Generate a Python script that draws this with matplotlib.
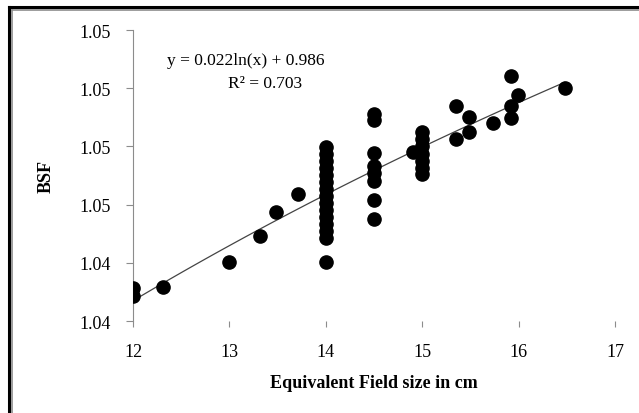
import numpy as np
import matplotlib
matplotlib.use("Agg")
import matplotlib.pyplot as plt
from matplotlib.lines import Line2D

# field size (cm) vs backscatter factor
field_size = [12.0, 12.0, 12.31, 13.0, 13.32, 13.48, 13.71,
              14.0, 14.0, 14.0, 14.0, 14.0, 14.0, 14.0, 14.0,
              14.0, 14.0, 14.0, 14.0, 14.0, 14.0, 14.0,
              14.5, 14.5, 14.5, 14.5, 14.5, 14.5, 14.5, 14.5,
              14.9, 15.0, 15.0, 15.0, 15.0, 15.0, 15.0, 15.0,
              15.35, 15.35, 15.49, 15.49, 15.73,
              15.92, 15.92, 15.92, 15.99, 16.48]
bsf = [1.04214, 1.04187, 1.04217, 1.04304, 1.04391, 1.04476, 1.04536,
       1.04698, 1.04674, 1.04650, 1.04626, 1.04602, 1.04578, 1.04554, 1.04530,
       1.04506, 1.04481, 1.04457, 1.04433, 1.04409, 1.04385, 1.04303,
       1.04811, 1.04791, 1.04677, 1.04633, 1.04609, 1.04581, 1.04516, 1.04451,
       1.04681, 1.04749, 1.04725, 1.04701, 1.04674, 1.04650, 1.04626, 1.04605,
       1.04840, 1.04725, 1.04802, 1.04748, 1.04779,
       1.04943, 1.04840, 1.04798, 1.04877, 1.04900]

x_ticks = [12, 13, 14, 15, 16, 17]
y_ticks = [1.041, 1.043, 1.045, 1.047, 1.049, 1.051]
y_tick_labels = ["1.04", "1.04", "1.05", "1.05", "1.05", "1.05"]

plt.rcParams['font.family'] = ['Liberation Serif', 'DejaVu Serif']

fig = plt.figure(figsize=(6.39, 4.14), dpi=100)
ax = fig.add_axes([0.2081, 0.2222, 0.7543, 0.7029])

ax.plot(field_size, bsf, 'o', color='black', ms=9.5, mec='black', zorder=3)

# log trendline fitted to the points
a, b = np.polyfit(np.log(field_size), bsf, 1)
xs = np.linspace(min(field_size), max(field_size), 100)
ax.plot(xs, a * np.log(xs) + b, color='#444444', lw=0.9, zorder=2)

ax.set_xlim(12, 17)
ax.set_ylim(1.041, 1.051)
ax.set_xticks(x_ticks)
ax.set_yticks(y_ticks)
ax.set_yticklabels(y_tick_labels)

for s in ['top', 'right', 'bottom']:
    ax.spines[s].set_visible(False)
ax.spines['left'].set_color('#8c8c8c')
ax.tick_params(axis='y', colors='#8c8c8c', labelcolor='black', length=5,
               pad=11, labelsize=13)
ax.tick_params(axis='x', colors='#8c8c8c', labelcolor='black', length=4,
               pad=12, labelsize=13)

ax.set_xlabel('Equivalent Field size in cm', fontweight='bold', fontsize=13,
              labelpad=10)
ax.set_ylabel('BSF', fontweight='bold', fontsize=13, labelpad=18)

fig.text(246 / 639, 1 - 61 / 414, 'y = 0.022ln(x) + 0.986', ha='center',
         va='center', fontsize=12.5)
fig.text(265 / 639, 1 - 84 / 414, 'R² = 0.703', ha='center', va='center',
         fontsize=12.5)

# frame on top and left
fig.add_artist(Line2D([9 / 639, 1], [1 - 8 / 414, 1 - 8 / 414], color='black', lw=2.2))
fig.add_artist(Line2D([9 / 639, 9 / 639], [0, 1 - 8 / 414], color='black', lw=2.2))
fig.add_artist(Line2D([11.5 / 639, 1], [1 - 10.5 / 414, 1 - 10.5 / 414], color='#8c8c8c', lw=1.2))
fig.add_artist(Line2D([11.5 / 639, 11.5 / 639], [0, 1 - 10.5 / 414], color='#8c8c8c', lw=1.2))

fig.savefig('out.png', dpi=100)
